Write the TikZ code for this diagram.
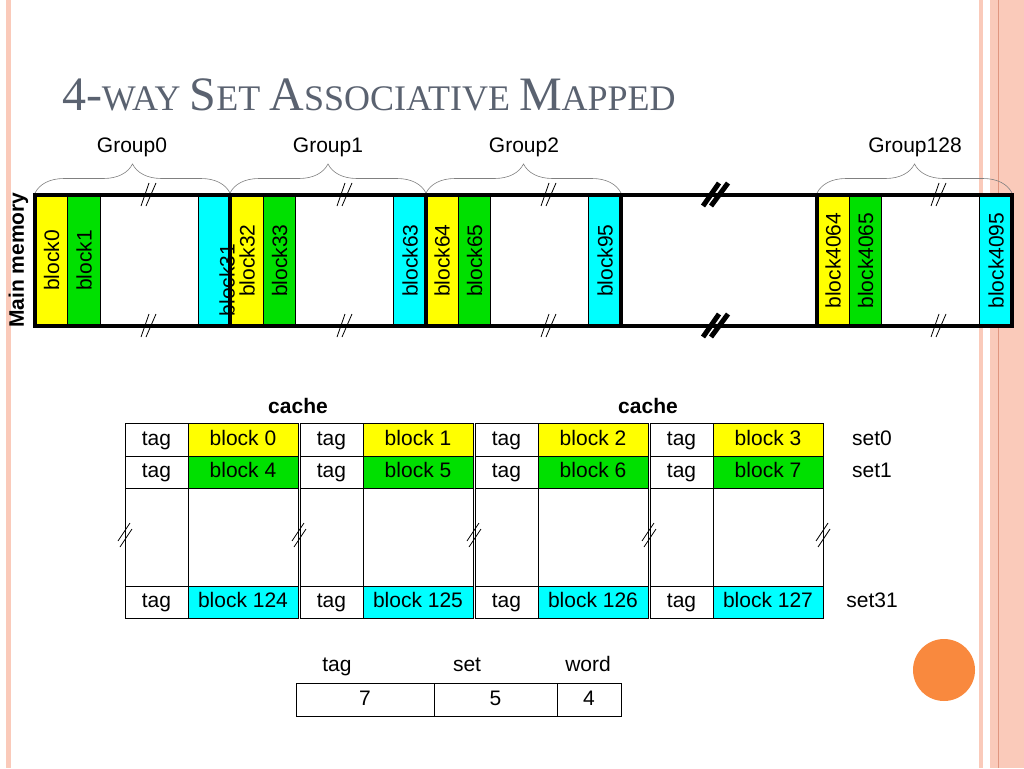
\documentclass[tikz,border=0pt]{standalone}
\usepackage{fontspec}
\setsansfont{Liberation Sans}
\newfontfamily\titlefont{Liberation Serif}
\newcommand\tcap[1]{{\fontsize{48}{52}\selectfont #1}}
\usetikzlibrary{positioning,decorations.pathreplacing}
\definecolor{blkyellow}{RGB}{255,255,0}
\definecolor{blkgreen}{RGB}{0,224,0}
\definecolor{blkcyan}{RGB}{0,255,255}
\definecolor{stripe}{RGB}{250,202,186}
\definecolor{stripedark}{RGB}{224,150,128}
\definecolor{titlegray}{RGB}{90,98,112}
\definecolor{dotorange}{RGB}{249,137,62}
\tikzset{
  brk/.pic={\draw (-7,11) -- (1,-12); \draw (-2,11) -- (8,-12);},
  bigbrk/.pic={\draw (-12,11) -- (4,-12); \draw (-4,11) -- (13,-12);},
  vbrk/.pic={\draw (-7,6) -- (5,-12); \draw (-5,12) -- (7,-6);}
}
\begin{document}
\begin{tikzpicture}[x=1pt,y=-1pt]
  \tikzstyle{every node}=[font=\sffamily\fontsize{21}{25}\selectfont,inner sep=0pt,outer sep=0pt]
  \tikzstyle{memblk}=[draw,line width=0.8pt,rotate=90,minimum width=131pt,minimum height=32.5pt]
  \tikzstyle{cell}=[draw,line width=0.8pt,text height=15pt,text depth=4pt,minimum height=33pt]
  \tikzstyle{tagcell}=[cell,minimum width=63pt]
  \tikzstyle{blkcell}=[cell,minimum width=110pt]
  \tikzstyle{gapcell}=[minimum height=98pt]
  \tikzstyle{wall}=[line width=3.5pt]
  \tikzstyle{grp}=[draw=gray,line width=0.6pt,decorate,decoration={brace,amplitude=29pt}]
  \tikzstyle{lbl}=[text height=15pt,text depth=4pt]

  % background
  \useasboundingbox (0,0) rectangle (1024,768);
  \fill[white] (0,0) rectangle (1024,768);
  \fill[stripe] (6,0) rectangle (11,768);
  \fill[stripe] (979,0) rectangle (983,768);
  \fill[stripe] (990,0) rectangle (1024,768);
  \draw[stripedark,line width=0.8pt] (998,0) -- (998,768);
  \fill[dotorange] (944,670) circle (31pt);

  \node[anchor=base west,font=\titlefont\fontsize{36}{40}\selectfont,text=titlegray] (title) at (62,110) {\tcap{4-}WAY \tcap{S}ET \tcap{A}SSOCIATIVE \tcap{M}APPED};

  % main memory
  \node[rotate=90,font=\sffamily\bfseries\fontsize{21}{25}\selectfont] (mm) at (18.5,260) {Main memory};
  \node[memblk,fill=blkyellow] (b0) at (51.5,260.5) {block0};
  \node[memblk,fill=blkgreen] (b1) at (84,260.5) {block1};
  \node[memblk,fill=blkcyan] (b31) at (214.5,260.5) {};
  \node[memblk,fill=blkyellow] (b32) at (247,260.5) {block32};
  \node[memblk,fill=blkgreen] (b33) at (279.5,260.5) {block33};
  \node[memblk,fill=blkcyan] (b63) at (410,260.5) {block63};
  \node[memblk,fill=blkyellow] (b64) at (442,260.5) {block64};
  \node[memblk,fill=blkgreen] (b65) at (474.5,260.5) {block65};
  \node[memblk,fill=blkcyan] (b95) at (605,260.5) {block95};
  \node[memblk,fill=blkyellow] (b4064) at (833,260.5) {block4064};
  \node[memblk,fill=blkgreen] (b4065) at (865.5,260.5) {block4065};
  \node[memblk,fill=blkcyan] (b4095) at (996,260.5) {block4095};
  \draw[wall] (35,195) rectangle (1012,326);
  \draw[wall] (230,195) -- (230,326);
  \draw[wall] (426,195) -- (426,326);
  \draw[wall] (621,195) -- (621,326);
  \draw[wall] (817,195) -- (817,326);
  \node[rotate=90] (b31t) at (227,280) {block31};

  \pic[line width=0.8pt] at (148,195) {brk};
  \pic[line width=0.8pt] at (148,326) {brk};
  \pic[line width=0.8pt] at (344,195) {brk};
  \pic[line width=0.8pt] at (344,326) {brk};
  \pic[line width=0.8pt] at (548,195) {brk};
  \pic[line width=0.8pt] at (548,326) {brk};
  \pic[line width=0.8pt] at (938,195) {brk};
  \pic[line width=0.8pt] at (938,326) {brk};
  \pic[line width=5pt] at (715,195) {bigbrk};
  \pic[line width=5pt] at (715,326) {bigbrk};

  \draw[grp] (35,193) -- (230,193);
  \draw[grp] (230,193) -- (426,193);
  \draw[grp] (426,193) -- (621,193);
  \draw[grp] (817,193) -- (1012,193);
  \node (g0) at (132,147) {Group0};
  \node (g1) at (328,147) {Group1};
  \node (g2) at (524,147) {Group2};
  \node (g128) at (915,147) {Group128};

  % cache
  \node[font=\sffamily\bfseries\fontsize{21}{25}\selectfont] (cache1) at (298,406) {cache};
  \node[font=\sffamily\bfseries\fontsize{21}{25}\selectfont] (cache2) at (648,406) {cache};

  \node[tagcell,anchor=north west] (t0a) at (125,423) {tag};
  \node[blkcell,fill=blkyellow,right=0pt of t0a] (c0a) {block 0};
  \node[tagcell,below=0pt of t0a,minimum height=32pt] (t0b) {tag};
  \node[blkcell,fill=blkgreen,right=0pt of t0b,minimum height=32pt] (c0b) {block 4};
  \node[tagcell,gapcell,below=0pt of t0b] (t0c) {};
  \node[blkcell,gapcell,right=0pt of t0c] (c0c) {};
  \node[tagcell,below=0pt of t0c,minimum height=32pt] (t0d) {tag};
  \node[blkcell,fill=blkcyan,right=0pt of t0d,minimum height=32pt] (c0d) {block 124};

  \node[tagcell,anchor=north west] (t1a) at (300,423) {tag};
  \node[blkcell,fill=blkyellow,right=0pt of t1a] (c1a) {block 1};
  \node[tagcell,below=0pt of t1a,minimum height=32pt] (t1b) {tag};
  \node[blkcell,fill=blkgreen,right=0pt of t1b,minimum height=32pt] (c1b) {block 5};
  \node[tagcell,gapcell,below=0pt of t1b] (t1c) {};
  \node[blkcell,gapcell,right=0pt of t1c] (c1c) {};
  \node[tagcell,below=0pt of t1c,minimum height=32pt] (t1d) {tag};
  \node[blkcell,fill=blkcyan,right=0pt of t1d,minimum height=32pt] (c1d) {block 125};

  \node[tagcell,anchor=north west] (t2a) at (475,423) {tag};
  \node[blkcell,fill=blkyellow,right=0pt of t2a] (c2a) {block 2};
  \node[tagcell,below=0pt of t2a,minimum height=32pt] (t2b) {tag};
  \node[blkcell,fill=blkgreen,right=0pt of t2b,minimum height=32pt] (c2b) {block 6};
  \node[tagcell,gapcell,below=0pt of t2b] (t2c) {};
  \node[blkcell,gapcell,right=0pt of t2c] (c2c) {};
  \node[tagcell,below=0pt of t2c,minimum height=32pt] (t2d) {tag};
  \node[blkcell,fill=blkcyan,right=0pt of t2d,minimum height=32pt] (c2d) {block 126};

  \node[tagcell,anchor=north west] (t3a) at (650,423) {tag};
  \node[blkcell,fill=blkyellow,right=0pt of t3a] (c3a) {block 3};
  \node[tagcell,below=0pt of t3a,minimum height=32pt] (t3b) {tag};
  \node[blkcell,fill=blkgreen,right=0pt of t3b,minimum height=32pt] (c3b) {block 7};
  \node[tagcell,gapcell,below=0pt of t3b] (t3c) {};
  \node[blkcell,gapcell,right=0pt of t3c] (c3c) {};
  \node[tagcell,below=0pt of t3c,minimum height=32pt] (t3d) {tag};
  \node[blkcell,fill=blkcyan,right=0pt of t3d,minimum height=32pt] (c3d) {block 127};

  \pic[line width=0.8pt] at (125,535) {vbrk};
  \pic[line width=0.8pt] at (299,535) {vbrk};
  \pic[line width=0.8pt] at (474,535) {vbrk};
  \pic[line width=0.8pt] at (649,535) {vbrk};
  \pic[line width=0.8pt] at (823,535) {vbrk};

  \node[lbl] (set0) at (872,439.5) {set0};
  \node[lbl] (set1) at (872,472) {set1};
  \node[lbl] (set31) at (872,602) {set31};

  % address format
  \node[lbl] (ltag) at (337,666) {tag};
  \node[lbl] (lset) at (467,666) {set};
  \node[lbl] (lword) at (588,666) {word};
  \node[cell,anchor=north west,minimum width=138pt] (ftag) at (296,683) {7};
  \node[cell,right=0pt of ftag,minimum width=123pt] (fset) {5};
  \node[cell,right=0pt of fset,minimum width=64pt] (fword) {4};
\end{tikzpicture}
\end{document}
